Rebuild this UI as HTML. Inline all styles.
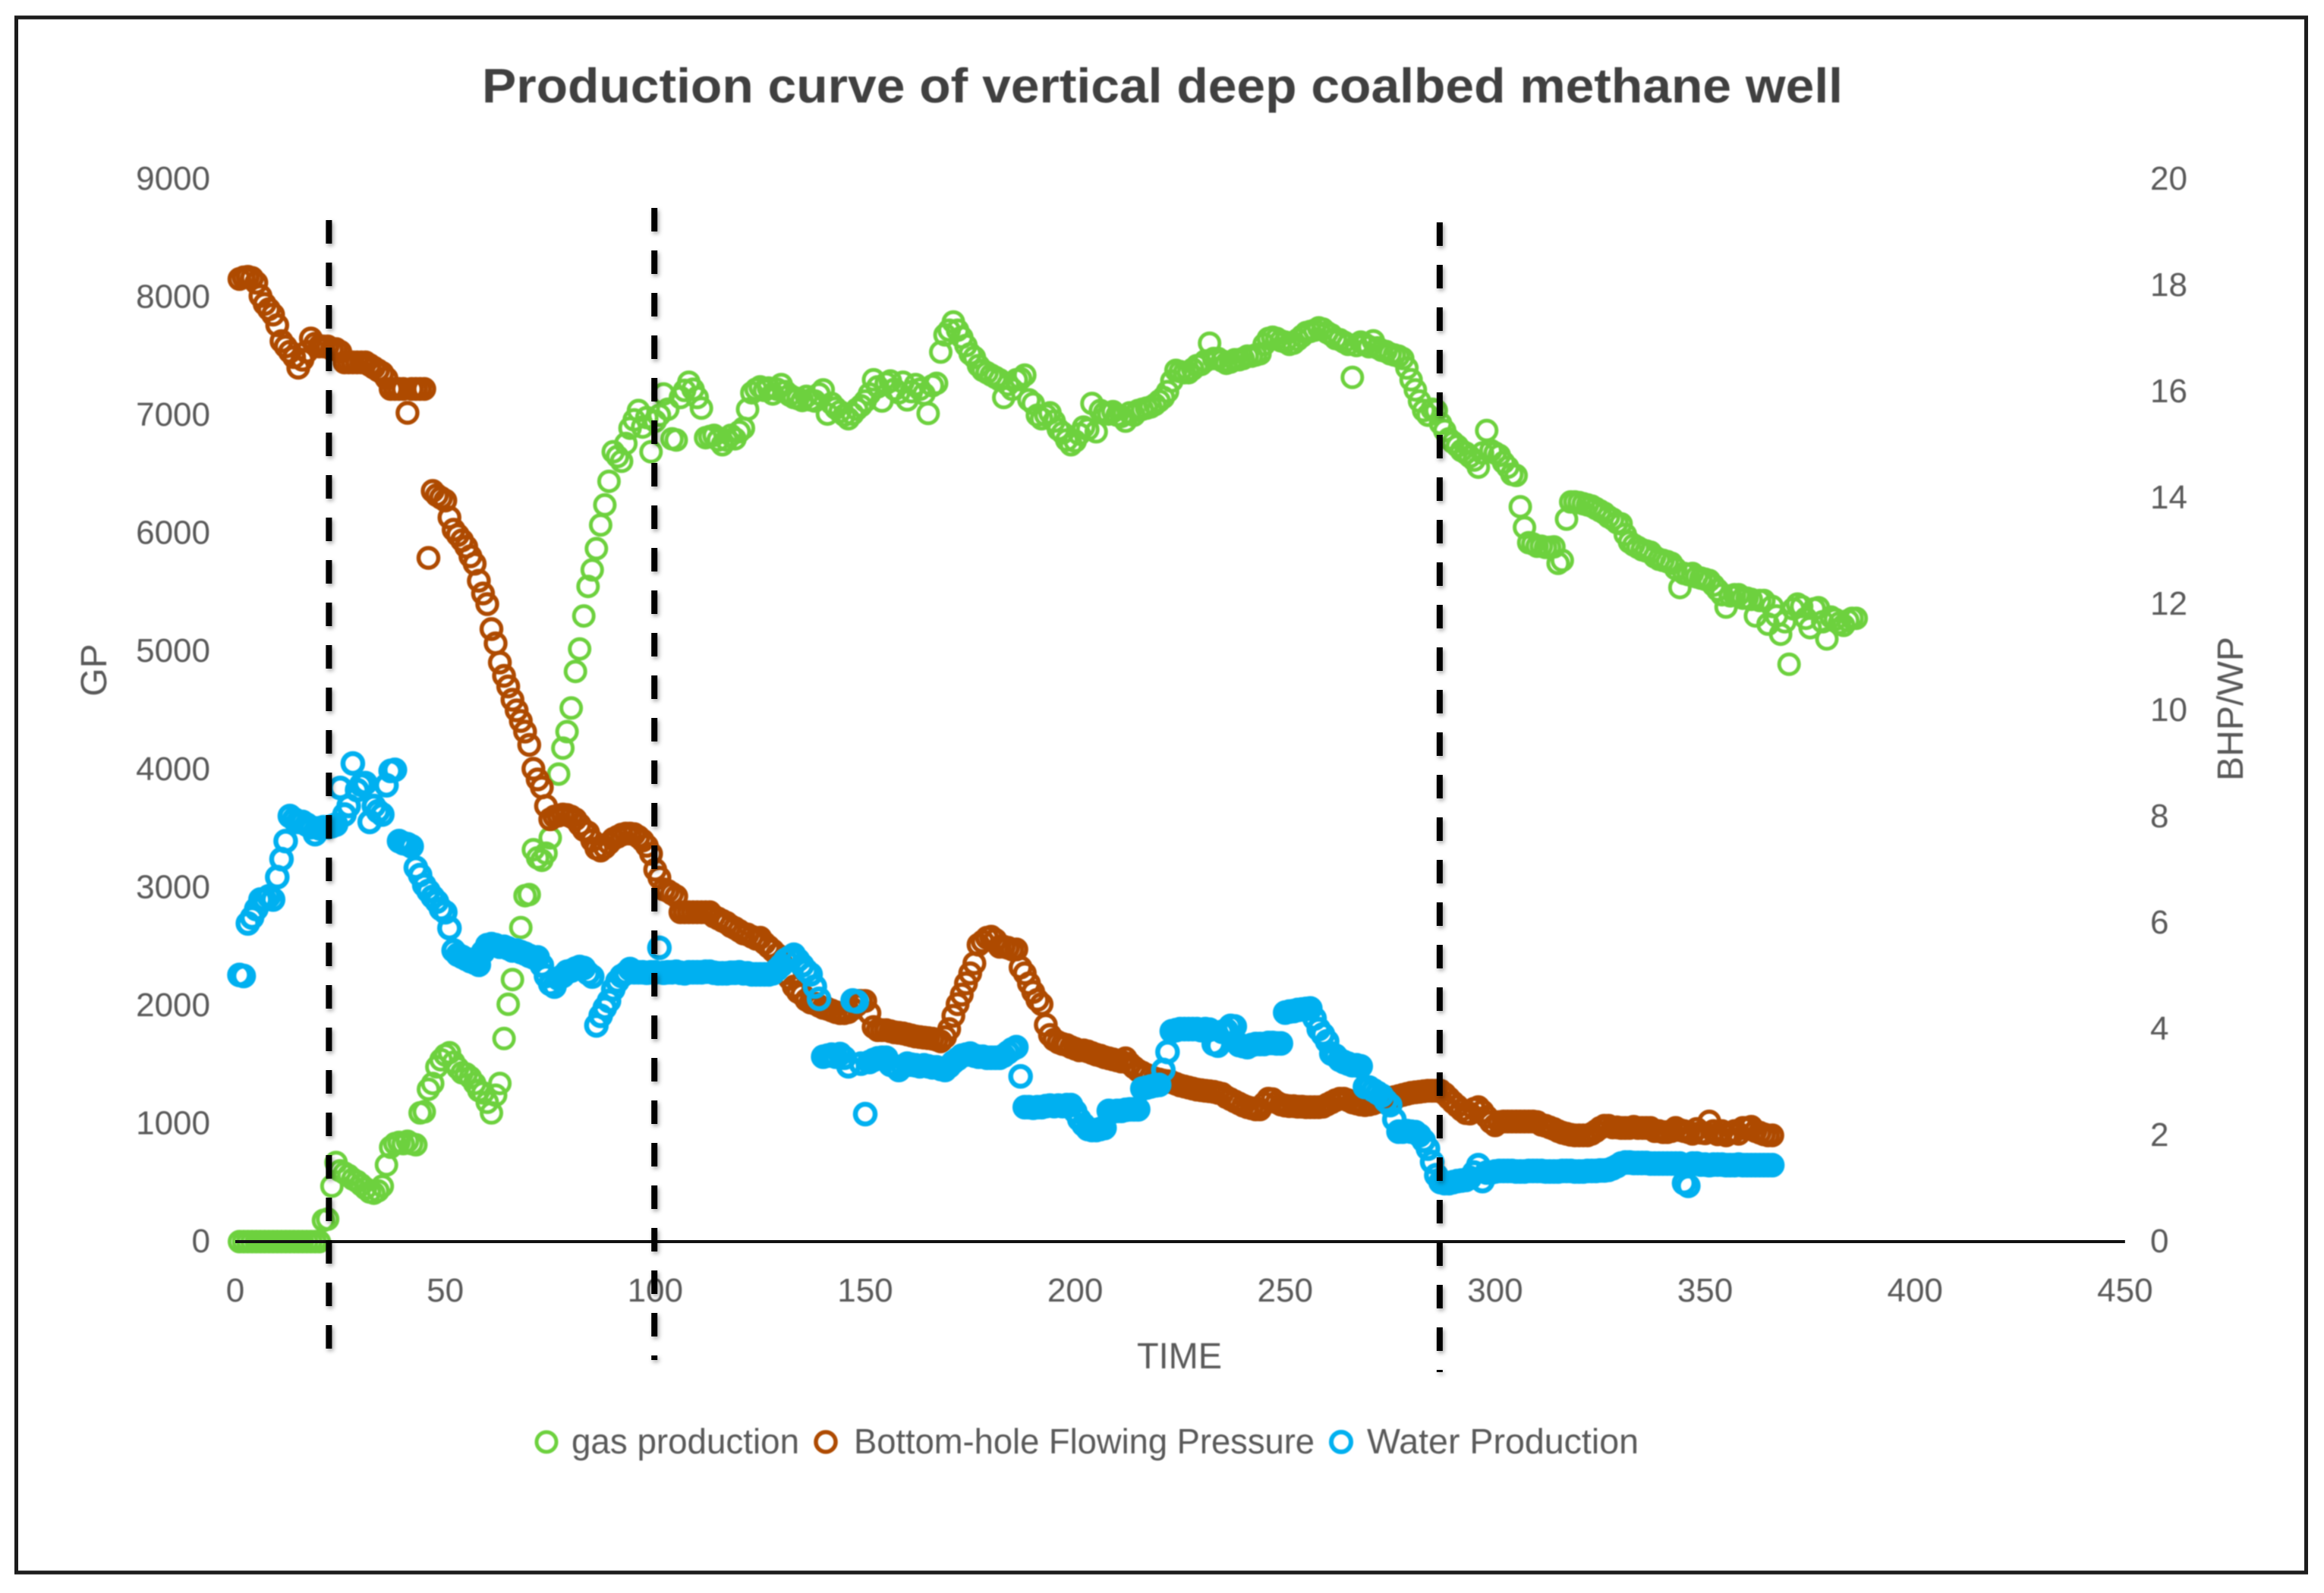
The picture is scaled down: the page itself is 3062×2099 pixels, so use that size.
<!DOCTYPE html>
<html lang="en">
<head>
<meta charset="utf-8">
<title>Production curve of vertical deep coalbed methane well</title>
<style>
html,body{margin:0;padding:0;background:#fff;width:3062px;height:2099px;overflow:hidden}
svg{display:block}
text{font-family:"Liberation Sans",sans-serif}
.tick{font-size:44px;fill:#595959}
.axis-title{font-size:48px;fill:#595959}
.legend-text{font-size:46px;fill:#595959}
.title{font-size:64px;font-weight:bold;fill:#404040}
.soft{filter:blur(0.8px)}
.dash-line{filter:drop-shadow(2px 3px 3px rgba(0,0,0,.35))}
</style>
</head>
<body>
<svg id="chart" xmlns="http://www.w3.org/2000/svg" width="3062" height="2099" viewBox="0 0 3062 2099">
  <rect x="0" y="0" width="3062" height="2099" fill="#fff"/>
  <rect x="21.5" y="23" width="3017" height="2049" fill="none" stroke="#1c1c1c" stroke-width="5"/>
  <text class="title soft" x="635" y="135" textLength="1793" lengthAdjust="spacingAndGlyphs">Production curve of vertical deep coalbed methane well</text>
  <g id="left-ticks" class="soft"></g>
  <g id="right-ticks" class="soft"></g>
  <g id="x-ticks" class="soft"></g>
  <text class="axis-title soft" transform="translate(140 883) rotate(-90)" text-anchor="middle">GP</text>
  <text class="axis-title soft" transform="translate(2955 934) rotate(-90)" text-anchor="middle" textLength="190" lengthAdjust="spacingAndGlyphs">BHP/WP</text>
  <text class="axis-title soft" x="1554" y="1803" text-anchor="middle" textLength="112" lengthAdjust="spacingAndGlyphs">TIME</text>
  <g id="series-gas" class="soft" fill="none" stroke="#6DD13E" stroke-width="5"></g>
  <line id="x-axis-line" y1="1636" y2="1636" stroke="#111" stroke-width="4"/>
  <g id="series-bhp" class="soft" fill="none" stroke="#AE4A00" stroke-width="5.5"></g>
  <g id="series-water" class="soft" fill="none" stroke="#00B0F0" stroke-width="6.5"></g>
  <g id="stage-lines" class="dash-line"></g>
  <g class="soft">
    <g>
      <circle cx="720" cy="1900" r="13" fill="none" stroke="#6DD13E" stroke-width="5"/>
      <text class="legend-text" x="753" y="1915" textLength="300" lengthAdjust="spacingAndGlyphs">gas production</text>
    </g>
    <g>
      <circle cx="1088" cy="1900" r="13" fill="none" stroke="#AE4A00" stroke-width="5.5"/>
      <text class="legend-text" x="1125" y="1915" textLength="607" lengthAdjust="spacingAndGlyphs">Bottom-hole Flowing Pressure</text>
    </g>
    <g>
      <circle cx="1767" cy="1900" r="13" fill="none" stroke="#00B0F0" stroke-width="6"/>
      <text class="legend-text" x="1801" y="1915" textLength="358" lengthAdjust="spacingAndGlyphs">Water Production</text>
    </g>
  </g>
</svg>
<script>
const xTickLabels = [0,50,100,150,200,250,300,350,400,450];
const leftTickLabels = [0,1000,2000,3000,4000,5000,6000,7000,8000,9000];
const rightTickLabels = [0,2,4,6,8,10,12,14,16,18,20];
const stageBoundaryDays = [22.3,99.8,286.8];
const stageLineTops = [290,274,293];
const stageLineBottoms = [1778,1792,1808];

const gasValues = [
0,0,0,0,0,0,0,0,0,0,
0,0,0,0,0,0,0,0,0,0,
180,190,470,670,600,580,560,530,510,480,
450,420,410,430,470,650,800,830,840,830,
850,830,820,1090,1100,1290,1340,1480,1540,1580,
1600,1520,1470,1430,1420,1390,1340,1280,1260,1180,
1090,1240,1340,1720,2010,2220,null,2660,2930,2940,
3320,3250,3230,3290,3420,null,3960,4180,4320,4520,
4830,5020,5300,5550,5690,5870,6070,6240,6440,6690,
6650,6610,6760,6890,6960,7040,6900,6980,6690,6950,
7000,7180,7050,6800,6790,7150,7210,7280,7220,7150,
7060,6810,6820,6830,6790,6750,6790,6830,6800,6860,
6890,7050,7190,7220,7240,7210,7230,7180,7220,7260,
7200,7170,7150,7140,7125,7160,7130,7120,7180,7215,
7010,7100,7060,7030,7000,6970,7010,7050,7080,7120,
7180,7300,7240,7120,7270,7290,7220,7190,7280,7130,
7200,7260,7220,7180,7015,7250,7270,7535,7680,7720,
7790,7720,7660,7590,7520,7490,7420,7380,7360,7340,
7320,7300,7150,7260,7220,7300,7310,7340,7130,7100,
7000,6970,7000,7020,6950,6880,6850,6790,6750,6780,
6840,6900,6880,7100,6860,7040,7020,7010,7030,7000,
6990,6950,7020,7000,7040,7050,7060,7070,7090,7120,
7150,7200,7290,7380,7370,7360,7360,7390,7420,7430,
7460,7610,7480,7480,7460,7440,7450,7470,7470,7480,
7500,7500,7510,7520,7600,7650,7660,7650,7630,7620,
7600,7610,7640,7670,7700,7710,7720,7740,7730,7700,
7680,7650,7640,7620,7600,7320,7590,7620,7600,7580,
7630,7570,7550,7540,7520,7510,7500,7480,7400,7300,
7215,7120,7040,7000,7050,7040,6930,6870,6800,6770,
6740,6700,6680,6650,6620,6560,6680,6870,6700,6680,
6660,6600,6560,6500,6490,6225,6050,5920,5910,5890,
5890,5880,5880,5885,5745,5770,6120,6265,6265,6260,
6250,6240,6230,6210,6190,6170,6140,6120,6090,6080,
5990,5925,5900,5880,5860,5850,5840,5800,5780,5770,
5760,5745,5700,5540,5660,5650,5660,5630,5620,5610,
5600,5560,5520,5480,5375,5470,5480,5480,5450,5450,
5440,5300,5430,5430,5230,5380,5300,5145,5250,4890,
5360,5400,5380,5280,5200,5360,5370,5250,5105,5290,
5270,5240,5220,5260,5280,5280
];

const bhpValues = [
18.12,18.15,18.16,18.14,18.05,17.8,17.65,17.55,17.45,17.25,
16.95,16.85,16.75,16.65,16.45,16.6,16.75,17.0,16.9,16.85,
16.85,16.85,16.8,16.8,16.75,16.55,16.55,16.55,16.55,16.55,
16.55,16.5,16.45,16.4,16.35,16.25,16.05,16.05,16.05,16.05,
15.6,16.05,16.05,16.05,16.05,12.87,14.13,14.05,14.0,13.95,
13.63,13.4,13.3,13.2,13.08,12.9,12.76,12.44,12.2,12.0,
11.53,11.26,10.9,10.65,10.45,10.2,10.0,9.8,9.6,9.35,
8.9,8.7,8.55,8.2,7.95,8.0,8.02,8.04,8.03,8.0,
7.95,7.85,7.75,7.7,7.55,7.4,7.36,7.42,7.5,7.58,
7.62,7.66,7.68,7.68,7.67,7.62,7.55,7.45,7.3,7.0,
6.85,6.63,6.6,6.55,6.5,6.2,6.2,6.2,6.2,6.2,
6.2,6.2,6.2,6.12,6.08,6.04,6.0,5.94,5.9,5.85,
5.8,5.78,5.74,5.7,5.72,5.62,5.55,5.48,5.4,5.25,
5.05,4.95,4.8,4.7,4.65,4.55,4.5,4.48,4.44,4.4,
4.38,4.35,4.32,4.3,4.3,4.32,4.38,4.45,4.53,4.53,
4.3,4.04,3.98,3.98,3.98,3.96,3.94,3.93,3.92,3.9,
3.88,3.86,3.85,3.84,3.83,3.82,3.8,3.77,3.85,4.0,
4.25,4.47,4.65,4.86,5.05,5.24,5.59,5.65,5.72,5.74,
5.68,5.55,5.55,5.53,5.5,5.5,5.16,5.05,4.86,4.7,
4.55,4.47,4.08,3.89,3.8,3.75,3.72,3.7,3.66,3.63,
3.6,3.6,3.58,3.55,3.52,3.5,3.47,3.45,3.43,3.41,
3.39,3.45,3.35,3.28,3.22,3.18,3.14,3.1,3.07,3.05,
3.03,3.02,3.0,2.97,2.94,2.92,2.9,2.88,2.86,2.85,
2.84,2.83,2.82,2.8,2.78,2.72,2.68,2.64,2.6,2.56,
2.53,2.51,2.49,2.49,2.6,2.69,2.68,2.62,2.58,2.56,
2.55,2.55,2.54,2.54,2.53,2.53,2.53,2.53,2.54,2.58,
2.62,2.66,2.69,2.69,2.66,2.62,2.6,2.58,2.57,2.58,
2.6,2.63,2.66,2.68,2.69,2.72,2.74,2.76,2.78,2.8,
2.81,2.82,2.83,2.84,2.84,2.84,2.84,2.78,2.7,2.62,
2.55,2.48,2.42,2.41,2.5,2.53,2.45,2.35,2.25,2.19,
2.25,2.26,2.26,2.26,2.26,2.26,2.26,2.26,2.26,2.25,
2.2,2.18,2.15,2.12,2.08,2.05,2.03,2.01,2.0,2.0,
2.0,2.0,2.03,2.08,2.14,2.18,2.18,2.15,2.15,2.14,
2.14,2.14,2.16,2.14,2.14,2.14,2.14,2.08,2.08,2.06,
2.06,2.08,2.14,2.1,2.08,2.06,2.03,2.12,2.05,2.04,
2.26,2.08,2.02,2.08,2.0,2.05,2.08,2.03,2.14,2.14,
2.16,2.08,2.05,2.02,2.0,2.0
];

const waterValues = [
5.02,5.0,5.99,6.1,6.26,6.44,6.44,6.5,6.44,6.86,
7.2,7.54,8.01,7.95,7.9,7.9,7.85,7.8,7.67,7.78,
7.8,7.8,7.82,7.85,8.54,8.04,8.2,9.0,8.5,8.6,
8.63,7.9,8.2,8.1,8.04,8.59,8.86,8.88,7.54,7.5,
7.48,7.44,7.04,6.9,6.71,6.6,6.49,6.4,6.26,6.2,
5.9,5.48,5.4,5.36,5.32,5.28,5.25,5.21,5.45,5.58,
5.6,5.58,5.55,5.55,5.52,5.48,5.48,5.45,5.42,5.38,
5.35,5.35,5.2,5.0,4.85,4.8,4.95,5.0,5.08,5.1,
5.14,5.17,5.15,5.05,4.99,4.07,4.25,4.4,4.53,4.75,
4.9,5.0,5.05,5.13,5.07,5.07,5.07,5.06,5.07,5.07,
5.53,5.06,5.07,5.07,5.08,5.06,5.05,5.07,5.07,5.07,
5.07,5.08,5.08,5.06,5.05,5.05,5.05,5.06,5.06,5.07,
5.05,5.05,5.03,5.03,5.03,5.03,5.03,5.05,5.12,5.2,
5.3,5.35,5.4,5.3,5.2,5.1,5.03,4.8,4.57,3.48,
3.5,3.52,3.48,3.53,3.46,3.3,4.54,4.52,3.35,2.4,
3.38,3.42,3.45,3.46,3.46,3.33,3.3,3.23,3.3,3.35,
3.33,3.32,3.3,3.32,3.3,3.28,3.28,3.25,3.23,3.3,
3.38,3.44,3.5,3.52,3.54,3.5,3.48,3.48,3.46,3.46,
3.46,3.46,3.5,3.56,3.62,3.66,3.11,2.53,2.53,2.52,
2.53,2.53,2.55,2.56,2.55,2.56,2.55,2.57,2.57,2.45,
2.3,2.2,2.12,2.1,2.1,2.12,2.14,2.46,2.45,2.46,
2.46,2.48,2.49,2.49,2.49,2.88,2.9,2.92,2.94,2.95,
3.23,3.57,3.96,3.98,4.0,4.0,4.0,4.0,4.0,3.98,
4.0,3.99,3.72,3.69,3.95,3.98,4.06,4.05,3.7,3.68,
3.66,3.7,3.72,3.72,3.72,3.74,3.74,3.73,3.73,4.31,
4.33,4.34,4.36,4.37,4.38,4.39,4.2,4.0,3.9,3.77,
3.54,3.5,3.42,3.38,3.35,3.32,3.32,3.3,2.91,2.9,
2.85,2.8,2.75,2.65,2.57,2.3,2.07,2.07,2.08,2.07,
2.06,2.0,1.9,1.75,1.5,1.25,1.12,1.1,1.1,1.12,
1.14,1.15,1.16,1.2,1.3,1.44,1.14,1.3,1.3,1.32,
1.33,1.33,1.33,1.33,1.32,1.32,1.32,1.33,1.33,1.33,
1.33,1.32,1.32,1.32,1.32,1.33,1.33,1.33,1.32,1.32,
1.32,1.33,1.33,1.33,1.34,1.34,1.35,1.38,1.42,1.47,
1.49,1.49,1.48,1.48,1.48,1.48,1.47,1.47,1.47,1.47,
1.47,1.47,1.47,1.47,1.1,1.05,1.47,1.47,1.45,1.45,
1.44,1.45,1.45,1.45,1.44,1.44,1.44,1.45,1.44,1.44,
1.44,1.44,1.44,1.44,1.44,1.44
];

const SVG_NS = 'http://www.w3.org/2000/svg';
const X0 = 310, X_PER_DAY = 5.533, Y0 = 1636, LEFT_MAX = 9000, RIGHT_MAX = 20, PLOT_H = 1400;
const MARKER_R = 13;

function xScale(day){ return X0 + day * X_PER_DAY; }
function yLeft(v){ return Y0 - v / LEFT_MAX * PLOT_H; }
function yRight(v){ return Y0 - v / RIGHT_MAX * PLOT_H; }

function drawSeries(groupId, values, yFn, markName){
  const g = document.getElementById(groupId);
  values.forEach(function(v, i){
    if (v === null) return;
    const c = document.createElementNS(SVG_NS, 'circle');
    c.setAttribute('cx', xScale(i + 1).toFixed(1));
    c.setAttribute('cy', yFn(v).toFixed(1));
    c.setAttribute('r', MARKER_R);
    
    
    g.appendChild(c);
  });
}

function addTick(groupId, label, x, y, anchor, tickName){
  const t = document.createElementNS(SVG_NS, 'text');
  t.setAttribute('class', 'tick');
  t.setAttribute('x', x);
  t.setAttribute('y', y);
  t.setAttribute('text-anchor', anchor);
  
  
  t.textContent = String(label);
  document.getElementById(groupId).appendChild(t);
}

leftTickLabels.forEach(function(v){ addTick('left-ticks', v, 277, yLeft(v) + 14, 'end', 'left-tick-label'); });
rightTickLabels.forEach(function(v){ addTick('right-ticks', v, 2833, yRight(v) + 14, 'start', 'right-tick-label'); });
xTickLabels.forEach(function(v){ addTick('x-ticks', v, xScale(v), 1715, 'middle', 'x-tick-label'); });

const axisLine = document.getElementById('x-axis-line');
axisLine.setAttribute('x1', xScale(xTickLabels[0]));
axisLine.setAttribute('x2', xScale(xTickLabels[xTickLabels.length - 1]));

drawSeries('series-gas', gasValues, yLeft, 'gas-production-point');
drawSeries('series-bhp', bhpValues, yRight, 'bottom-hole-pressure-point');
drawSeries('series-water', waterValues, yRight, 'water-production-point');

stageBoundaryDays.forEach(function(day, i){
  const l = document.createElementNS(SVG_NS, 'line');
  l.setAttribute('x1', xScale(day));
  l.setAttribute('x2', xScale(day));
  l.setAttribute('y1', stageLineTops[i]);
  l.setAttribute('y2', stageLineBottoms[i]);
  l.setAttribute('stroke', '#000');
  l.setAttribute('stroke-width', '8');
  l.setAttribute('stroke-dasharray', '31 25');
  
  
  document.getElementById('stage-lines').appendChild(l);
});
</script>
</body>
</html>
